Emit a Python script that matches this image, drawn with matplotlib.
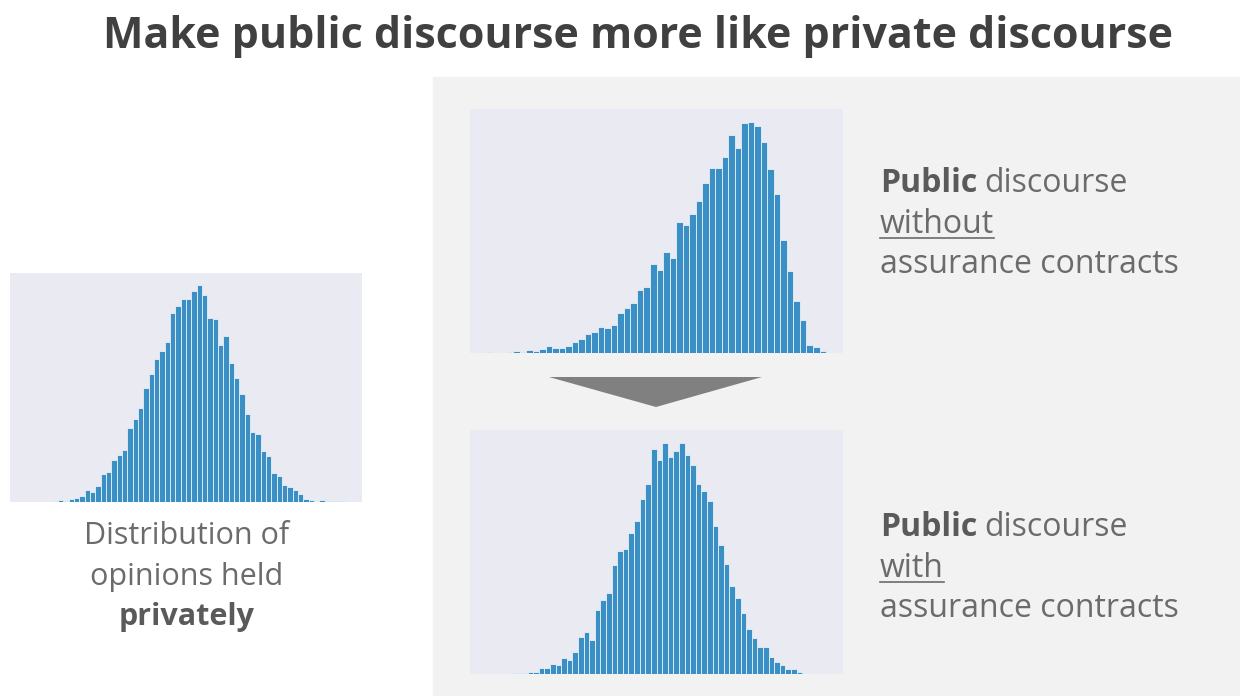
import matplotlib
matplotlib.use("Agg")
import matplotlib.pyplot as plt
from matplotlib.patches import Rectangle, Polygon
import numpy as np

plt.rcParams["font.family"] = ["Open Sans", "DejaVu Sans"]

# bin counts (arbitrary units)
private_counts = [1, 0, 0, 1, 1, 2, 7, 4, 9, 12, 18, 36, 31, 48, 83, 89, 127, 142, 155,
                  222, 250, 282, 343, 383, 430, 455, 482, 567, 589, 610, 610, 633, 652,
                  623, 554, 550, 471, 499, 418, 373, 323, 263, 210, 203, 152, 137, 87,
                  77, 52, 44, 35, 25, 10, 7, 3, 5, 3, 3, 2, 2]
without_counts = [2, 0, 1, 2, 7, 4, 8, 6, 13, 21, 16, 16, 22, 32, 43, 56, 63, 77, 74,
                  82, 119, 133, 149, 187, 197, 264, 246, 300, 283, 390, 380, 413, 451,
                  507, 550, 550, 583, 649, 611, 683, 688, 674, 628, 547, 474, 337, 243,
                  156, 99, 24, 19, 7]
with_counts = [1, 3, 3, 3, 7, 7, 19, 18, 30, 28, 48, 41, 66, 109, 125, 101, 189, 220,
               241, 322, 364, 372, 419, 455, 520, 563, 666, 636, 686, 643, 662, 686,
               651, 620, 563, 543, 513, 439, 384, 326, 261, 226, 181, 134, 106, 80, 80,
               49, 35, 26, 15, 14, 6, 1]

W, H = 1240, 696
fig = plt.figure(figsize=(W / 100, H / 100), dpi=100)
fig.patch.set_facecolor("white")

def fx(x):
    return x / W

def fy(y):
    return 1 - y / H

# grey backdrop on the right
fig.patches.append(Rectangle((fx(433), 0), fx(W - 433), (H - 77) / H,
                             transform=fig.transFigure, color="#f2f2f2", zorder=-5))

bar_color = "#3a8fc4"

def hist_axes(box, counts, xpad=None):
    x0, y0, x1, y1 = box
    ax = fig.add_axes([fx(x0), fy(y1), fx(x1 - x0), (y1 - y0) / H])
    ax.set_facecolor("#eaeaf2")
    idx = np.arange(len(counts))
    ax.bar(idx, counts, width=1.0, color=bar_color, edgecolor="#e8f0f7", linewidth=0.6)
    if xpad is not None:
        ax.set_xlim(-0.5 - xpad, len(counts) - 0.5 + xpad)
    ax.set_ylim(0, max(counts) * 1.055)
    ax.set_xticks([])
    ax.set_yticks([])
    for s in ax.spines.values():
        s.set_visible(False)
    return ax

hist_axes((10, 273, 362, 502), private_counts)
hist_axes((470, 109, 843, 353), without_counts)
hist_axes((470, 430, 843, 674), with_counts, xpad=6.3)

# arrow between the two right charts
fig.patches.append(Polygon([(fx(549), fy(377)), (fx(762), fy(377)), (fx(656), fy(407))],
                           closed=True, transform=fig.transFigure,
                           facecolor="#808080", edgecolor="none"))

fig.text(fx(638), fy(48), "Make public discourse more like private discourse",
         ha="center", va="baseline", fontsize=31, fontweight="bold", color="#404040")

body = "#6b6b6b"
dark = "#5a5a5a"
fs = 23

fig.canvas.draw()
renderer = fig.canvas.get_renderer()

def right_label(base_y, word):
    t = fig.text(fx(880), fy(base_y), "Public", ha="left", va="baseline",
                 fontsize=fs, fontweight="bold", color=dark)
    bb = t.get_window_extent(renderer)
    fig.text(bb.x1 / W + fx(7), fy(base_y), "discourse", ha="left", va="baseline",
             fontsize=fs, color=body)
    t2 = fig.text(fx(880), fy(base_y + 41), word, ha="left", va="baseline",
                  fontsize=fs, color=body)
    bb2 = t2.get_window_extent(renderer)
    fig.add_artist(plt.Line2D([fx(880), bb2.x1 / W], [fy(base_y + 46), fy(base_y + 46)],
                              transform=fig.transFigure, color=body, lw=1.2))
    fig.text(fx(880), fy(base_y + 81), "assurance contracts", ha="left", va="baseline",
             fontsize=fs, color=body)

right_label(192, "without")
right_label(536, "with")

fs_left = 22
fig.text(fx(187), fy(544), "Distribution of", ha="center", va="baseline",
         fontsize=fs_left, color=body)
fig.text(fx(187), fy(585), "opinions held", ha="center", va="baseline",
         fontsize=fs_left, color=body)
fig.text(fx(187), fy(625), "privately", ha="center", va="baseline",
         fontsize=fs_left, fontweight="bold", color=dark)

fig.savefig("out.png", dpi=100, facecolor="white")
